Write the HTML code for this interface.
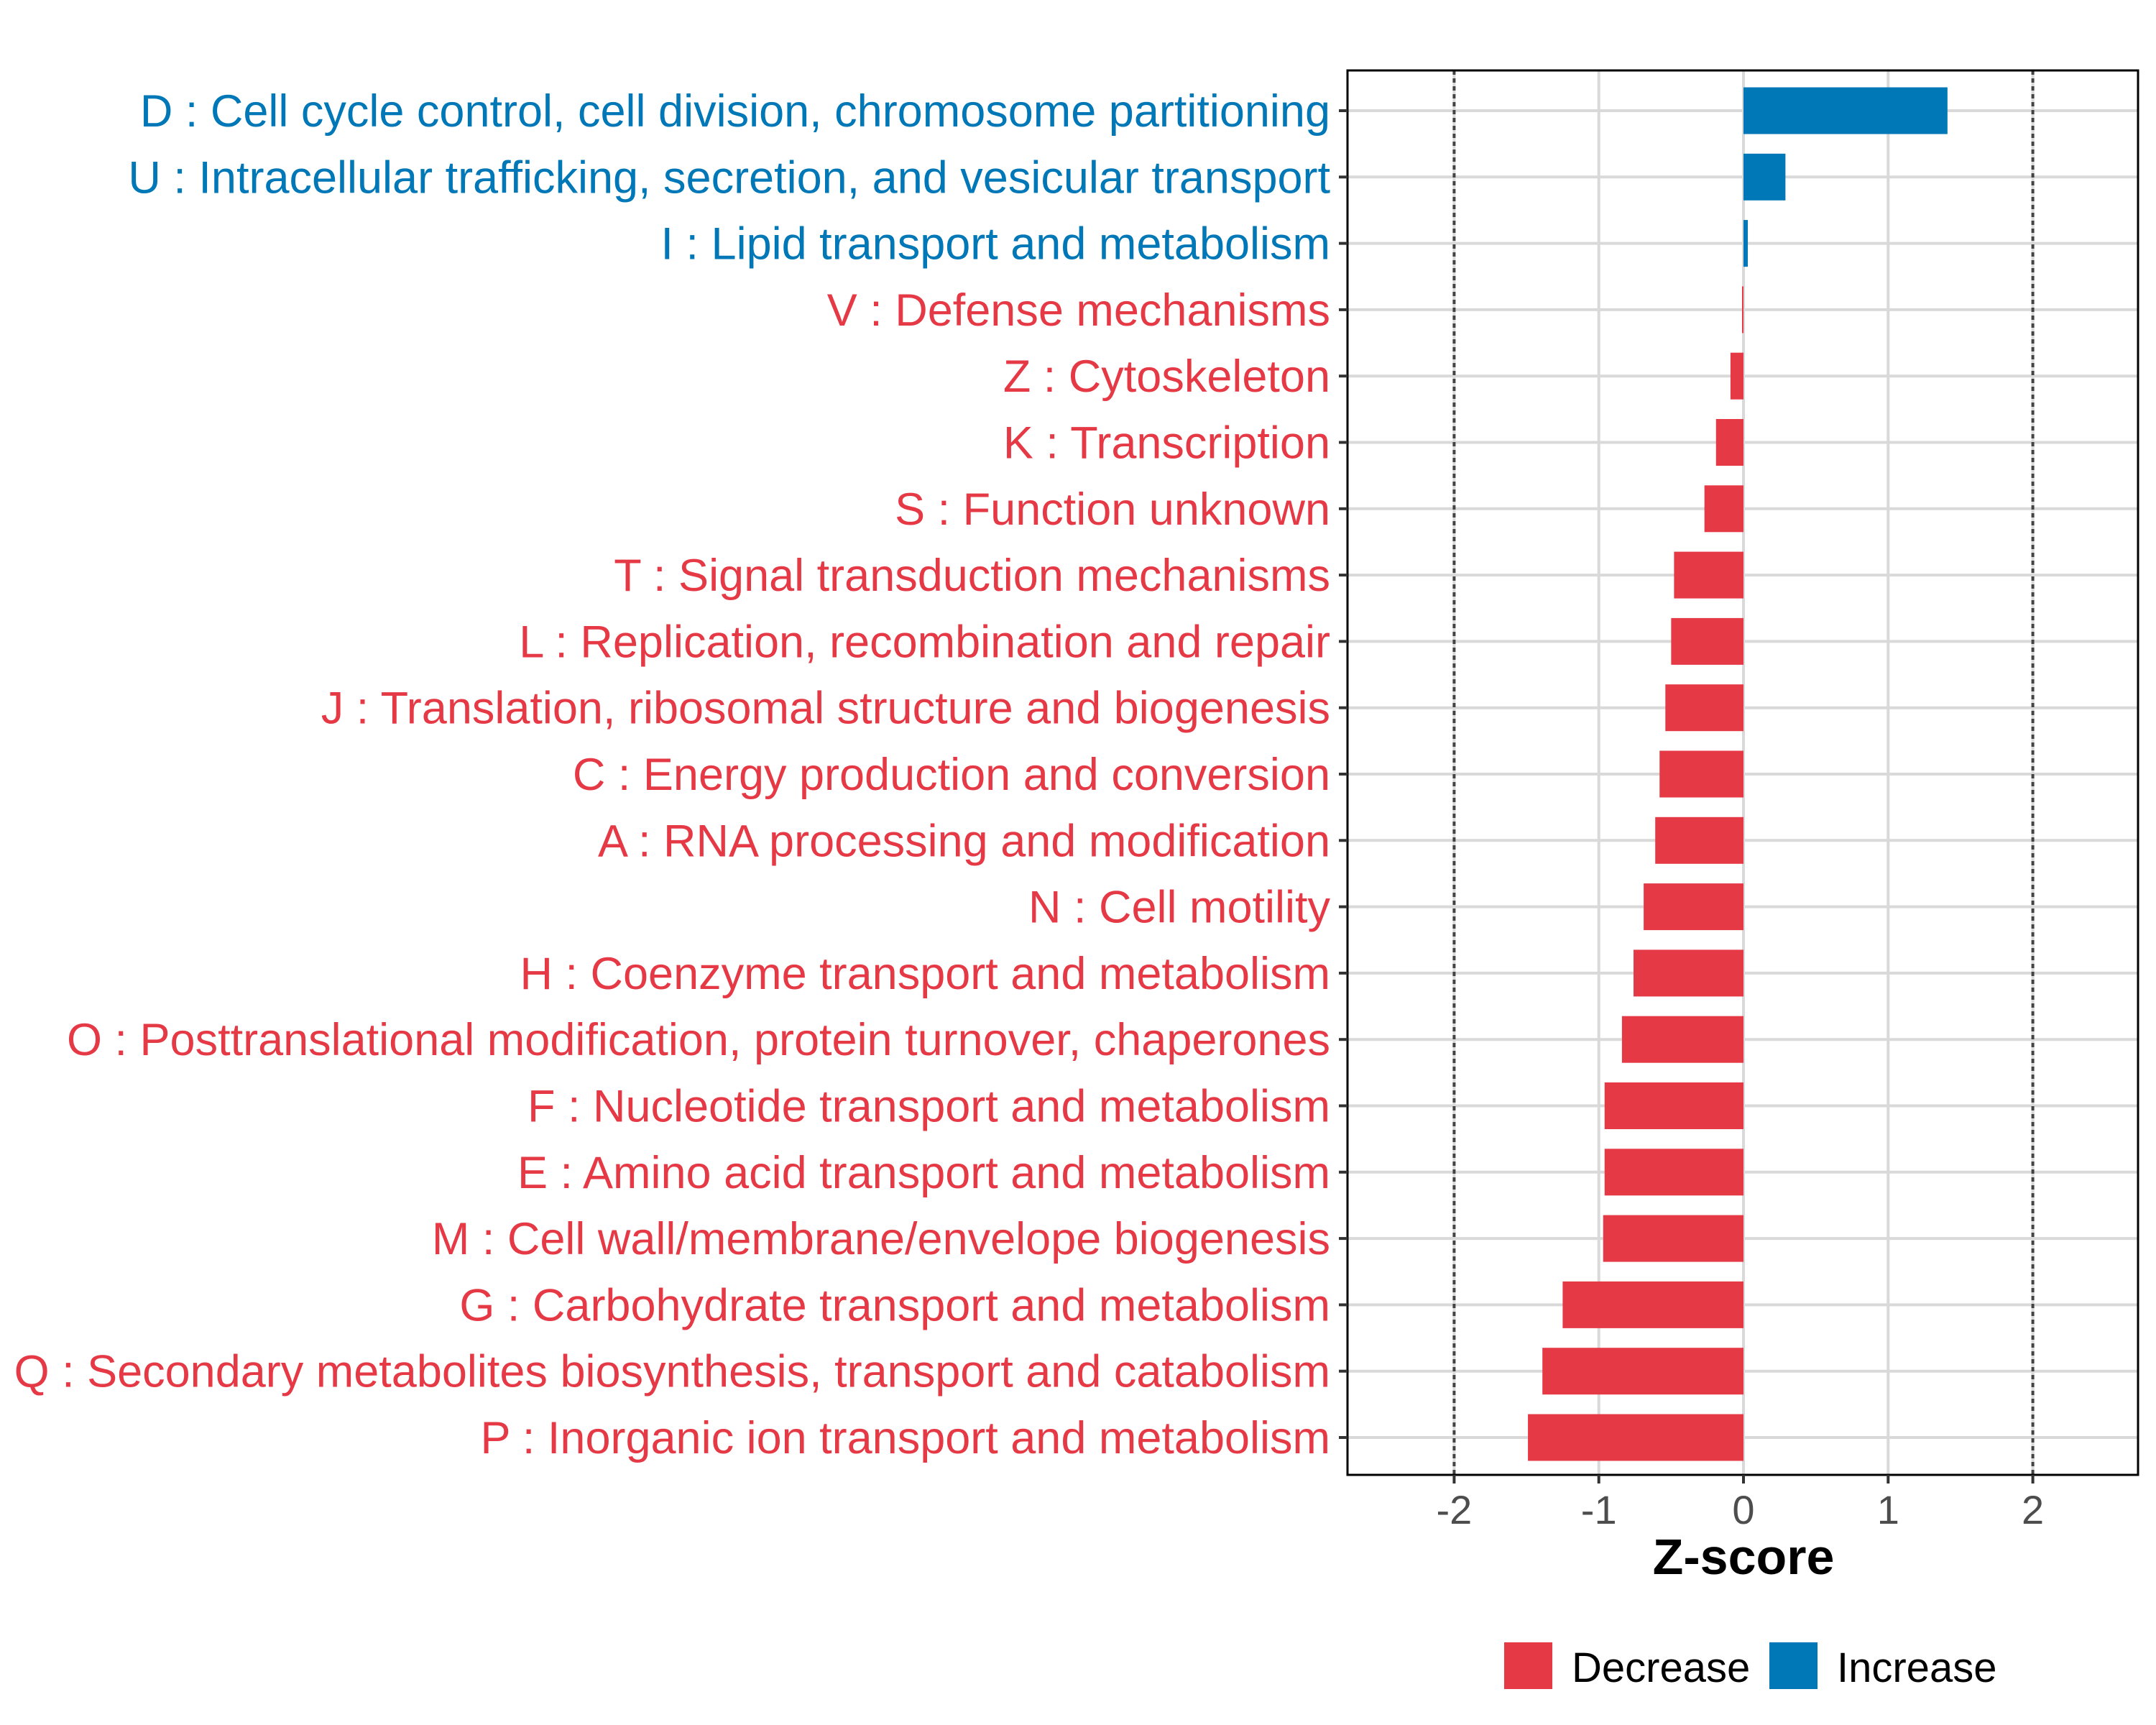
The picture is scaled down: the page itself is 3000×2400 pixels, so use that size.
<!DOCTYPE html>
<html><head><meta charset="utf-8"><style>
html,body{margin:0;padding:0;background:#fff;}
svg{display:block;font-family:"Liberation Sans",sans-serif;}
</style></head><body>
<svg id="chart" width="3000" height="2400" viewBox="0 0 3000 2400" xmlns="http://www.w3.org/2000/svg">
<rect width="3000" height="2400" fill="#fff"/>
<g id="grid"></g>
<g id="bars"></g>
<g id="axes"></g>
<text x="2426" y="2190" text-anchor="middle" font-size="70" font-weight="bold" fill="#000">Z-score</text>
<g>
<rect x="2093" y="2285" width="67" height="65" fill="#E63946"/>
<text x="2187" y="2340" font-size="58" fill="#000">Decrease</text>
<rect x="2462" y="2285" width="67" height="65" fill="#0077B6"/>
<text x="2556" y="2340" font-size="58" fill="#000">Increase</text>
</g>
</svg>
<script>
const categories = ["D : Cell cycle control, cell division, chromosome partitioning","U : Intracellular trafficking, secretion, and vesicular transport","I : Lipid transport and metabolism","V : Defense mechanisms","Z : Cytoskeleton","K : Transcription","S : Function unknown","T : Signal transduction mechanisms","L : Replication, recombination and repair","J : Translation, ribosomal structure and biogenesis","C : Energy production and conversion","A : RNA processing and modification","N : Cell motility","H : Coenzyme transport and metabolism","O : Posttranslational modification, protein turnover, chaperones","F : Nucleotide transport and metabolism","E : Amino acid transport and metabolism","M : Cell wall/membrane/envelope biogenesis","G : Carbohydrate transport and metabolism","Q : Secondary metabolites biosynthesis, transport and catabolism","P : Inorganic ion transport and metabolism"];
const zscores = [1.41,0.29,0.03,-0.01,-0.09,-0.19,-0.27,-0.48,-0.50,-0.54,-0.58,-0.61,-0.69,-0.76,-0.84,-0.96,-0.96,-0.97,-1.25,-1.39,-1.49];
const xTicks = [-2,-1,0,1,2];
const xTickLabels = ["-2","-1","0","1","2"];
const refLines = [-2,2];

const NS="http://www.w3.org/2000/svg";
const L=1875,R=2975,T=98,B=2052;
const x0=2426,unit=201.3;
const xs=v=>x0+v*unit;
const rowTop=154,rowStep=92.3,barH=65;
const ys=i=>rowTop+i*rowStep;
const RED="#E63946",BLUE="#0077B6";
function mk(tag,attrs,parent){const e=document.createElementNS(NS,tag);for(const k in attrs)e.setAttribute(k,attrs[k]);parent.appendChild(e);return e;}
const grid=document.getElementById('grid'),bars=document.getElementById('bars'),axes=document.getElementById('axes');

xTicks.forEach((t,i)=>{
  const l=mk('line',{x1:xs(t),x2:xs(t),y1:T,y2:B,stroke:'#d9d9d9','stroke-width':4},grid);
  
  
});
categories.forEach((c,i)=>{
  const l=mk('line',{x1:L,x2:R,y1:ys(i),y2:ys(i),stroke:'#d9d9d9','stroke-width':4},grid);
  
  
});
refLines.forEach(v=>{
  const l=mk('line',{x1:xs(v),x2:xs(v),y1:T,y2:B,stroke:'#444','stroke-width':4,'stroke-dasharray':'6,5'},grid);
  
  
});
zscores.forEach((v,i)=>{
  const a=xs(Math.min(0,v)),b=xs(Math.max(0,v));
  const r=mk('rect',{x:a,y:ys(i)-barH/2,width:Math.max(b-a,1),height:barH,fill:v>=0?BLUE:RED},bars);
  
  
});
const frame=mk('rect',{x:L,y:T,width:R-L,height:B-T,fill:'none',stroke:'#000','stroke-width':3},axes);


categories.forEach((c,i)=>{
  const tk=mk('line',{x1:L-12,x2:L,y1:ys(i),y2:ys(i),stroke:'#333','stroke-width':4},axes);
  
  
  const t=mk('text',{x:1851,y:ys(i)+22,'text-anchor':'end','font-size':63,fill:zscores[i]>0?BLUE:RED},axes);
  t.textContent=c;
  
  
});
xTicks.forEach((v,i)=>{
  const tk=mk('line',{x1:xs(v),x2:xs(v),y1:B,y2:B+12,stroke:'#333','stroke-width':4},axes);
  
  
  const t=mk('text',{x:xs(v),y:2120,'text-anchor':'middle','font-size':56,fill:'#4d4d4d'},axes);
  t.textContent=xTickLabels[i];
  
  
});
</script>
</body></html>
